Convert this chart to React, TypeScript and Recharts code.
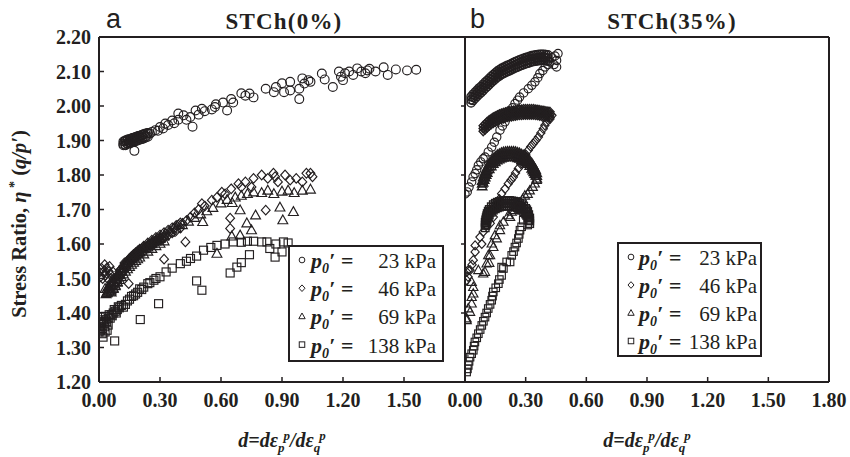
import React from 'react';
import { ScatterChart, Scatter, XAxis, YAxis, ReferenceLine } from 'recharts';

type P = [number, number];

const xTicksA = [0, 0.3, 0.6, 0.9, 1.2, 1.5];
const xTicksB = [0, 0.3, 0.6, 0.9, 1.2, 1.5, 1.8];
const yTicks = [1.2, 1.3, 1.4, 1.5, 1.6, 1.7, 1.8, 1.9, 2.0, 2.1, 2.2];
const yTicksB = [1.2, 1.4, 1.6, 1.8, 2.0, 2.2];
const legendLabels = ['23 kPa', '46 kPa', '69 kPa', '138 kPa'];
const titles = ['STCh(0%)', 'STCh(35%)'];
const panelLetters = ['a', 'b'];

// ---------- Panel a : STCh(0%) ----------
const a23: P[] = [
  [0.12,1.89],[0.125,1.897],[0.13,1.886],[0.133,1.9],[0.138,1.892],[0.142,1.903],[0.146,1.895],[0.15,1.9],[0.154,1.893],[0.158,1.905],
  [0.162,1.898],[0.166,1.907],[0.17,1.9],[0.174,1.87],[0.176,1.908],[0.18,1.902],[0.185,1.91],[0.19,1.905],[0.195,1.913],[0.2,1.908],
  [0.21,1.915],[0.215,1.91],[0.22,1.918],[0.23,1.913],[0.24,1.921],[0.25,1.92],[0.26,1.925],[0.277,1.93],[0.29,1.928],[0.3,1.939],
  [0.315,1.935],[0.326,1.949],[0.34,1.945],[0.36,1.958],[0.37,1.95],[0.39,1.978],[0.39,1.96],[0.416,1.973],[0.43,1.96],[0.449,1.968],
  [0.46,1.94],[0.475,1.987],[0.49,1.975],[0.506,1.992],[0.52,1.985],[0.555,1.99],[0.57,1.997],[0.575,2.005],[0.61,2.01],[0.63,1.987],
  [0.65,2.02],[0.66,2.01],[0.7,2.037],[0.72,2.03],[0.74,2.036],[0.76,2.025],[0.82,2.05],[0.86,2.04],[0.87,2.055],[0.9,2.066],
  [0.91,2.04],[0.94,2.07],[0.94,2.045],[0.985,2.05],[0.985,2.02],[1.0,2.08],[1.01,2.065],[1.03,2.075],[1.04,2.07],[1.096,2.094],
  [1.11,2.077],[1.15,2.055],[1.18,2.1],[1.19,2.085],[1.2,2.075],[1.21,2.095],[1.23,2.1],[1.25,2.09],[1.27,2.109],[1.29,2.1],
  [1.31,2.095],[1.32,2.103],[1.33,2.108],[1.36,2.1],[1.4,2.112],[1.42,2.09],[1.46,2.106],[1.515,2.103],[1.56,2.105],
];
// dense start of the 23 kPa cloud: [d, low, high]
const a23Dense: number[][] = [
  [0.12,1.886,1.897],[0.13,1.888,1.9],[0.14,1.89,1.902],[0.15,1.892,1.904],[0.16,1.894,1.906],[0.17,1.896,1.908],[0.18,1.898,1.91],
  [0.19,1.9,1.912],[0.2,1.902,1.914],[0.21,1.904,1.916],[0.22,1.906,1.918],[0.23,1.909,1.92],[0.24,1.911,1.922],
];
const a46: P[] = [
  [0.0,1.52],[0.008,1.505],[0.012,1.53],[0.018,1.5],[0.022,1.52],[0.028,1.54],[0.032,1.51],[0.038,1.53],[0.042,1.5],[0.048,1.52],
  [0.052,1.535],[0.058,1.51],[0.062,1.49],[0.068,1.52],[0.072,1.5],[0.08,1.48],[0.085,1.505],[0.09,1.49],[0.1,1.51],[0.105,1.525],
  [0.11,1.52],[0.12,1.535],[0.125,1.545],[0.13,1.54],[0.14,1.55],[0.146,1.485],[0.15,1.555],[0.16,1.56],[0.17,1.565],[0.18,1.572],
  [0.19,1.575],[0.2,1.582],[0.21,1.585],[0.22,1.59],[0.23,1.592],[0.24,1.597],[0.25,1.6],[0.26,1.605],[0.27,1.607],[0.28,1.612],
  [0.29,1.615],[0.3,1.62],[0.31,1.612],[0.32,1.556],[0.33,1.63],[0.35,1.637],[0.37,1.645],[0.39,1.655],[0.41,1.66],[0.425,1.606],
  [0.43,1.668],[0.45,1.678],[0.47,1.69],[0.49,1.7],[0.506,1.717],[0.52,1.71],[0.555,1.727],[0.58,1.735],[0.604,1.75],[0.62,1.745],
  [0.645,1.675],[0.645,1.645],[0.65,1.76],[0.686,1.775],[0.7,1.765],[0.72,1.78],[0.75,1.765],[0.76,1.79],[0.8,1.8],[0.82,1.698],
  [0.83,1.79],[0.858,1.805],[0.866,1.795],[0.88,1.78],[0.915,1.8],[0.94,1.785],[0.97,1.79],[1.0,1.78],[1.02,1.805],[1.04,1.805],[1.05,1.795],
];
const a46Dense: number[][] = [
  [0.1,1.505,1.52],[0.11,1.513,1.528],[0.12,1.521,1.536],[0.13,1.529,1.544],[0.14,1.536,1.551],[0.15,1.543,1.558],[0.16,1.549,1.564],
  [0.17,1.555,1.57],[0.18,1.56,1.575],[0.19,1.565,1.58],[0.2,1.57,1.585],[0.22,1.579,1.594],[0.24,1.588,1.603],[0.26,1.596,1.611],
  [0.28,1.604,1.619],[0.3,1.611,1.626],[0.32,1.618,1.633],[0.34,1.625,1.64],[0.36,1.632,1.647],[0.38,1.639,1.654],[0.4,1.646,1.661],
];
const a69: P[] = [
  [0.03,1.47],[0.035,1.455],[0.04,1.46],[0.045,1.475],[0.05,1.465],[0.055,1.48],[0.06,1.46],[0.065,1.485],[0.07,1.47],[0.075,1.49],
  [0.08,1.478],[0.085,1.5],[0.09,1.49],[0.1,1.51],[0.11,1.52],[0.12,1.53],[0.13,1.54],[0.14,1.545],[0.15,1.552],[0.16,1.56],
  [0.17,1.565],[0.18,1.57],[0.2,1.576],[0.22,1.585],[0.24,1.59],[0.26,1.6],[0.28,1.608],[0.3,1.615],[0.32,1.622],[0.35,1.633],
  [0.38,1.645],[0.41,1.655],[0.44,1.665],[0.47,1.676],[0.5,1.686],[0.51,1.664],[0.53,1.695],[0.56,1.705],[0.58,1.572],[0.6,1.718],
  [0.63,1.728],[0.653,1.622],[0.655,1.719],[0.67,1.735],[0.694,1.698],[0.694,1.625],[0.7,1.74],[0.727,1.66],[0.73,1.745],[0.75,1.64],
  [0.76,1.75],[0.77,1.683],[0.8,1.748],[0.83,1.755],[0.86,1.745],[0.89,1.706],[0.9,1.752],[0.904,1.669],[0.93,1.755],[0.956,1.693],
  [0.96,1.748],[1.0,1.755],[1.04,1.758],
];
const a69Dense: number[][] = [
  [0.04,1.458,1.47],[0.05,1.462,1.476],[0.06,1.466,1.482],[0.07,1.472,1.49],[0.08,1.48,1.498],[0.09,1.488,1.506],[0.1,1.496,1.514],
  [0.11,1.504,1.522],[0.12,1.512,1.53],[0.13,1.52,1.538],[0.14,1.527,1.545],[0.15,1.534,1.552],[0.16,1.54,1.558],[0.17,1.546,1.563],
  [0.18,1.551,1.568],[0.19,1.556,1.573],[0.2,1.561,1.578],[0.22,1.57,1.587],[0.24,1.578,1.595],[0.26,1.586,1.603],[0.28,1.594,1.61],
  [0.3,1.601,1.617],[0.32,1.608,1.624],
];
const a138: P[] = [
  [0.0,1.345],[0.004,1.36],[0.008,1.35],[0.012,1.372],[0.016,1.34],[0.02,1.33],[0.022,1.38],[0.028,1.36],[0.032,1.39],[0.038,1.375],
  [0.04,1.35],[0.045,1.385],[0.055,1.385],[0.06,1.395],[0.07,1.4],[0.077,1.319],[0.08,1.405],[0.09,1.41],[0.1,1.415],[0.12,1.417],
  [0.13,1.425],[0.15,1.44],[0.17,1.45],[0.19,1.46],[0.2,1.47],[0.203,1.381],[0.22,1.475],[0.24,1.485],[0.27,1.495],[0.293,1.427],
  [0.3,1.505],[0.33,1.519],[0.36,1.53],[0.4,1.543],[0.43,1.55],[0.45,1.558],[0.48,1.493],[0.48,1.565],[0.506,1.466],[0.514,1.582],
  [0.55,1.59],[0.58,1.596],[0.62,1.6],[0.645,1.516],[0.66,1.606],[0.678,1.533],[0.7,1.546],[0.7,1.605],[0.73,1.608],[0.74,1.569],
  [0.76,1.608],[0.8,1.606],[0.84,1.587],[0.826,1.606],[0.866,1.562],[0.87,1.6],[0.9,1.577],[0.907,1.606],[0.93,1.603],
  [0.005,1.375],[0.01,1.39],[0.015,1.355],[0.025,1.37],[0.03,1.345],[0.035,1.38],[0.045,1.365],[0.05,1.395],[0.065,1.392],
  [0.075,1.41],[0.085,1.4],[0.095,1.418],[0.11,1.422],[0.14,1.435],[0.16,1.448],[0.18,1.455],[0.21,1.468],[0.25,1.488],[0.28,1.5],
];

// ---------- Panel b : STCh(35%) ----------
const b23: P[] = [
  [0.0,1.745],[0.011,1.751],[0.02,1.765],[0.033,1.78],[0.04,1.795],[0.05,1.804],[0.058,1.815],[0.066,1.828],[0.078,1.838],[0.09,1.847],
  [0.099,1.852],[0.115,1.867],[0.132,1.881],[0.145,1.895],[0.157,1.91],[0.173,1.93],[0.185,1.942],[0.198,1.954],[0.21,1.97],[0.22,1.983],
  [0.235,1.995],[0.247,2.007],[0.26,2.017],[0.27,2.026],[0.29,2.038],[0.313,2.05],[0.33,2.06],[0.346,2.07],[0.36,2.082],[0.37,2.094],
  [0.385,2.103],[0.396,2.113],[0.41,2.12],[0.42,2.128],[0.44,2.12],[0.453,2.132],[0.453,2.113],[0.46,2.152],[0.43,2.14],[0.445,2.145],
];
// dense arc of the 23 kPa test: [d, low, mid, high]
const b23Arc: number[][] = [
  [0.03,2.009,2.018,2.027],[0.04,2.016,2.025,2.034],[0.05,2.022,2.031,2.04],[0.06,2.028,2.037,2.046],[0.07,2.034,2.043,2.052],
  [0.08,2.039,2.048,2.057],[0.09,2.045,2.054,2.063],[0.1,2.051,2.06,2.069],[0.11,2.056,2.065,2.074],[0.12,2.062,2.071,2.08],
  [0.13,2.068,2.077,2.086],[0.14,2.073,2.082,2.091],[0.15,2.078,2.087,2.096],[0.16,2.083,2.092,2.101],[0.17,2.087,2.096,2.105],
  [0.18,2.091,2.1,2.109],[0.19,2.094,2.103,2.112],[0.2,2.097,2.106,2.115],[0.21,2.1,2.109,2.118],[0.22,2.102,2.111,2.12],
  [0.23,2.105,2.114,2.123],[0.24,2.108,2.117,2.126],[0.25,2.111,2.12,2.129],[0.26,2.113,2.122,2.131],[0.27,2.116,2.125,2.134],
  [0.28,2.118,2.127,2.136],[0.29,2.12,2.129,2.138],[0.3,2.122,2.131,2.14],[0.31,2.124,2.133,2.142],[0.32,2.126,2.135,2.144],
  [0.33,2.128,2.137,2.146],[0.34,2.129,2.138,2.147],[0.35,2.13,2.139,2.148],[0.36,2.131,2.14,2.149],[0.37,2.132,2.141,2.15],
  [0.38,2.132,2.141,2.15],[0.39,2.132,2.141,2.15],[0.4,2.131,2.14,2.149],[0.41,2.13,2.139,2.148],
];
const b46: P[] = [
  [0.43,1.973],[0.42,1.962],[0.404,1.954],[0.395,1.944],[0.387,1.934],[0.375,1.922],[0.363,1.91],[0.35,1.9],[0.338,1.891],[0.325,1.882],
  [0.313,1.872],[0.3,1.86],[0.288,1.845],[0.276,1.832],[0.264,1.819],[0.25,1.806],[0.239,1.794],[0.227,1.785],[0.214,1.775],[0.198,1.76],
  [0.181,1.746],[0.17,1.73],[0.157,1.717],[0.145,1.7],[0.14,1.678],[0.125,1.66],[0.107,1.654],[0.09,1.635],[0.074,1.62],[0.083,1.6],
  [0.05,1.596],[0.05,1.577],[0.041,1.553],[0.035,1.54],[0.025,1.524],[0.016,1.524],[0.008,1.519],[0.015,1.505],[0.008,1.495],
];
const b46Arc: number[][] = [
  [0.09,1.927,1.935,1.943],[0.1,1.932,1.94,1.948],[0.11,1.938,1.946,1.954],[0.12,1.943,1.951,1.959],[0.13,1.947,1.955,1.963],
  [0.14,1.951,1.959,1.967],[0.15,1.954,1.962,1.97],[0.16,1.957,1.965,1.973],[0.17,1.96,1.968,1.976],[0.18,1.962,1.97,1.978],
  [0.19,1.964,1.972,1.98],[0.2,1.966,1.974,1.982],[0.21,1.968,1.976,1.984],[0.22,1.969,1.977,1.985],[0.23,1.97,1.978,1.986],
  [0.24,1.971,1.979,1.987],[0.25,1.972,1.98,1.988],[0.26,1.973,1.981,1.989],[0.27,1.974,1.982,1.99],[0.28,1.974,1.982,1.99],
  [0.29,1.975,1.983,1.991],[0.3,1.975,1.983,1.991],[0.31,1.975,1.983,1.991],[0.32,1.975,1.983,1.991],[0.33,1.975,1.983,1.991],
  [0.34,1.975,1.983,1.991],[0.35,1.974,1.982,1.99],[0.36,1.973,1.981,1.989],[0.37,1.972,1.98,1.988],[0.38,1.971,1.979,1.987],
  [0.39,1.97,1.978,1.986],[0.4,1.969,1.977,1.985],[0.41,1.968,1.976,1.984],[0.42,1.967,1.975,1.983],
];
const b69: P[] = [
  [0.355,1.785],[0.345,1.775],[0.335,1.765],[0.32,1.755],[0.31,1.745],[0.296,1.74],[0.285,1.73],[0.272,1.72],[0.26,1.708],[0.245,1.698],
  [0.231,1.693],[0.214,1.683],[0.223,1.678],[0.19,1.664],[0.173,1.654],[0.173,1.64],[0.157,1.616],[0.148,1.625],[0.14,1.591],[0.132,1.601],
  [0.124,1.567],[0.115,1.567],[0.107,1.543],[0.12,1.545],[0.099,1.519],[0.09,1.514],[0.066,1.524],[0.041,1.475],[0.041,1.456],[0.033,1.49],
  [0.033,1.446],[0.033,1.427],[0.025,1.403],[0.016,1.413],[0.008,1.384],[0.008,1.379],
];
const b69Arc: number[][] = [
  [0.085,1.767,1.775,1.783],[0.09,1.778,1.786,1.794],[0.095,1.786,1.794,1.802],[0.1,1.793,1.801,1.809],[0.105,1.8,1.808,1.816],
  [0.11,1.806,1.814,1.822],[0.12,1.817,1.825,1.833],[0.13,1.825,1.833,1.841],[0.14,1.832,1.84,1.848],[0.15,1.837,1.845,1.853],
  [0.16,1.842,1.85,1.858],[0.17,1.845,1.853,1.861],[0.18,1.848,1.856,1.864],[0.19,1.85,1.858,1.866],[0.2,1.851,1.859,1.867],
  [0.21,1.852,1.86,1.868],[0.22,1.852,1.86,1.868],[0.23,1.852,1.86,1.868],[0.24,1.852,1.86,1.868],[0.25,1.851,1.859,1.867],
  [0.26,1.849,1.857,1.865],[0.27,1.847,1.855,1.863],[0.28,1.844,1.852,1.86],[0.29,1.841,1.849,1.857],[0.3,1.837,1.845,1.853],
  [0.31,1.832,1.84,1.848],[0.32,1.826,1.834,1.842],[0.33,1.818,1.826,1.834],[0.335,1.813,1.821,1.829],[0.34,1.808,1.816,1.824],
  [0.345,1.803,1.811,1.819],[0.35,1.798,1.806,1.814],[0.355,1.789,1.797,1.805],
];
const b138: P[] = [
  [0.31,1.655],[0.288,1.669],[0.28,1.65],[0.272,1.64],[0.268,1.628],[0.264,1.616],[0.255,1.603],[0.247,1.591],[0.24,1.578],[0.231,1.567],
  [0.223,1.548],[0.206,1.548],[0.19,1.529],[0.181,1.533],[0.181,1.509],[0.17,1.497],[0.165,1.485],[0.152,1.473],[0.14,1.461],[0.136,1.449],
  [0.132,1.437],[0.124,1.425],[0.115,1.413],[0.107,1.4],[0.099,1.388],[0.091,1.376],[0.083,1.364],[0.075,1.352],[0.066,1.34],[0.058,1.328],
  [0.049,1.316],[0.045,1.304],[0.041,1.292],[0.033,1.282],[0.025,1.272],[0.02,1.26],[0.016,1.248],[0.012,1.238],[0.008,1.229],
];
const b138Arc: number[][] = [
  [0.1,1.647,1.655,1.663],[0.103,1.654,1.662,1.67],[0.105,1.66,1.668,1.676],[0.108,1.666,1.674,1.682],[0.11,1.672,1.68,1.688],
  [0.115,1.679,1.687,1.695],[0.12,1.684,1.692,1.7],[0.13,1.692,1.7,1.708],[0.14,1.698,1.706,1.714],[0.15,1.702,1.71,1.718],
  [0.16,1.705,1.713,1.721],[0.17,1.707,1.715,1.723],[0.18,1.709,1.717,1.725],[0.19,1.71,1.718,1.726],[0.2,1.71,1.718,1.726],
  [0.21,1.71,1.718,1.726],[0.22,1.71,1.718,1.726],[0.23,1.709,1.717,1.725],[0.24,1.708,1.716,1.724],[0.25,1.707,1.715,1.723],
  [0.26,1.705,1.713,1.721],[0.27,1.702,1.71,1.718],[0.28,1.698,1.706,1.714],[0.29,1.693,1.701,1.709],[0.3,1.687,1.695,1.703],
  [0.305,1.683,1.691,1.699],[0.31,1.678,1.686,1.694],[0.315,1.669,1.677,1.685],[0.32,1.659,1.667,1.675],
];

const toPts = (arr: P[]) => arr.map(([x, y]) => ({ x, y }));
const rowsToPts = (rows: number[][]) => rows.flatMap(([x, ...ys]) => ys.map((y) => ({ x, y })));

const INK = '#231f20';
const SERIF = '"Liberation Serif", "Times New Roman", serif';
const SANS = '"Liberation Sans", Arial, sans-serif';

const cxOf = (p: any) => (p.cx !== undefined ? p.cx : p.x + (p.width || 0) / 2);
const cyOf = (p: any) => (p.cy !== undefined ? p.cy : p.y + (p.height || 0) / 2);

const Sym = ({ kind, cx, cy, s, w = 1.15 }: { kind: string; cx: number; cy: number; s: number; w?: number }) => {
  const st = { fill: 'none', stroke: INK, strokeWidth: w };
  if (kind === 'circle') return <circle cx={cx} cy={cy} r={s * 0.52} {...st} />;
  if (kind === 'square') return <rect x={cx - s / 2} y={cy - s / 2} width={s} height={s} {...st} />;
  if (kind === 'diamond')
    return <path d={`M${cx},${cy - s * 0.6}L${cx + s * 0.55},${cy}L${cx},${cy + s * 0.6}L${cx - s * 0.55},${cy}Z`} {...st} />;
  return <path d={`M${cx},${cy - s * 0.62}L${cx + s * 0.58},${cy + s * 0.42}L${cx - s * 0.58},${cy + s * 0.42}Z`} {...st} />;
};

const mk = (kind: string, s: number, w = 1.15) => (p: any) => {
  const cx = cxOf(p);
  const cy = cyOf(p);
  if (cx === undefined || isNaN(cx)) return <g />;
  return <Sym kind={kind} cx={cx} cy={cy} s={s} w={w} />;
};

const XTickIn = (props: any) => {
  const { x, y, payload } = props;
  return (
    <g>
      <line x1={x} y1={y} x2={x} y2={y - 5} stroke={INK} strokeWidth={1.5} />
      <text x={x} y={y + 25} textAnchor="middle" fontFamily={SERIF} fontWeight="bold" fontSize={20} fill={INK}>
        {Number(payload.value).toFixed(2)}
      </text>
    </g>
  );
};

const YTickIn = (props: any) => {
  const { x, y, payload } = props;
  return (
    <g>
      <line x1={x} y1={y} x2={x + 5} y2={y} stroke={INK} strokeWidth={1.5} />
      <text x={x - 8} y={y + 7} textAnchor="end" fontFamily={SERIF} fontWeight="bold" fontSize={20} fill={INK}>
        {Number(payload.value).toFixed(2)}
      </text>
    </g>
  );
};

const YTickOut = (props: any) => {
  const { x, y } = props;
  return <line x1={x} y1={y} x2={x - 4} y2={y} stroke={INK} strokeWidth={1.5} />;
};

const axisLine = { stroke: INK, strokeWidth: 2 };

const Legend = ({ x, y, w, h, base, pitch, mx, lx, vr }: any) => {
  const kinds = ['circle', 'diamond', 'triangle', 'square'];
  return (
    <g>
      <rect x={x} y={y} width={w} height={h} fill="#fff" stroke={INK} strokeWidth={2} />
      {legendLabels.map((lab, i) => {
        const b = base + i * pitch;
        return (
          <g key={lab}>
            <Sym kind={kinds[i]} cx={mx} cy={b - 8} s={5.5} w={1} />
            <text x={lx} y={b} fontFamily={SERIF} fontWeight="bold" fontStyle="italic" fontSize={22} fill={INK}>
              p<tspan dy={5} fontSize={14}>0</tspan>
              <tspan dy={-5}>{'′ ='}</tspan>
            </text>
            <text x={vr} y={b} textAnchor="end" fontFamily={SERIF} fontSize={21} fill={INK}>
              {lab}
            </text>
          </g>
        );
      })}
    </g>
  );
};

const XLabel = ({ cx }: { cx: number }) => (
  <text x={cx} y={447} textAnchor="middle" fontFamily={SERIF} fontWeight="bold" fontStyle="italic" fontSize={20} fill={INK}>
    d=dε<tspan dy={5} fontSize={13}>p</tspan>
    <tspan dx={-1} dy={-12} fontSize={13}>p</tspan>
    <tspan dy={7}>/dε</tspan>
    <tspan dy={5} fontSize={13}>q</tspan>
    <tspan dx={-1} dy={-12} fontSize={13}>p</tspan>
  </text>
);

export default function App() {
  return (
    <div style={{ position: 'absolute', left: 0, top: 0, width: 850, height: 457, background: '#fff', overflow: 'hidden' }}>
      <div style={{ position: 'absolute', left: 0, top: 0 }}>
        <ScatterChart width={470} height={457} margin={{ top: 37, right: 5, bottom: 45, left: 39 }}>
          <XAxis type="number" dataKey="x" domain={[0, 1.8]} ticks={xTicksA} interval={0} height={30}
            axisLine={axisLine} tickLine={false} tickSize={0} tickMargin={0} tick={<XTickIn />} allowDataOverflow />
          <YAxis type="number" dataKey="y" domain={[1.2, 2.2]} ticks={yTicks} interval={0} width={60}
            axisLine={axisLine} tickLine={false} tickSize={0} tickMargin={0} tick={<YTickIn />} allowDataOverflow />
          <ReferenceLine y={2.2} stroke={INK} strokeWidth={2} ifOverflow="visible" />
          <ReferenceLine x={1.8} stroke={INK} strokeWidth={2} ifOverflow="visible" />
          <Scatter data={toPts(a138)} shape={mk('square', 8)} isAnimationActive={false} />
          <Scatter data={toPts(a69)} shape={mk('triangle', 8.5)} isAnimationActive={false} />
          <Scatter data={rowsToPts(a69Dense)} shape={mk('triangle', 8.5)} isAnimationActive={false} />
          <Scatter data={toPts(a46)} shape={mk('diamond', 8)} isAnimationActive={false} />
          <Scatter data={rowsToPts(a46Dense)} shape={mk('diamond', 8)} isAnimationActive={false} />
          <Scatter data={toPts(a23)} shape={mk('circle', 8.5)} isAnimationActive={false} />
          <Scatter data={rowsToPts(a23Dense)} shape={mk('circle', 8.5)} isAnimationActive={false} />
        </ScatterChart>
      </div>
      <div style={{ position: 'absolute', left: 440, top: 0 }}>
        <ScatterChart width={410} height={457} margin={{ top: 37, right: 21, bottom: 45, left: 20 }}>
          <XAxis type="number" dataKey="x" domain={[0, 1.8]} ticks={xTicksB} interval={0} height={30}
            axisLine={axisLine} tickLine={false} tickSize={0} tickMargin={0} tick={<XTickIn />} allowDataOverflow />
          <YAxis type="number" dataKey="y" domain={[1.2, 2.2]} ticks={yTicksB} interval={0} width={5}
            axisLine={axisLine} tickLine={false} tickSize={0} tickMargin={0} tick={<YTickOut />} allowDataOverflow />
          <ReferenceLine y={2.2} stroke={INK} strokeWidth={2} ifOverflow="visible" />
          <ReferenceLine x={1.8} stroke={INK} strokeWidth={2} ifOverflow="visible" />
          <Scatter data={toPts(b138)} shape={mk('square', 7.5)} isAnimationActive={false} />
          <Scatter data={rowsToPts(b138Arc)} shape={mk('square', 7.5, 1.4)} isAnimationActive={false} />
          <Scatter data={toPts(b69)} shape={mk('triangle', 8)} isAnimationActive={false} />
          <Scatter data={rowsToPts(b69Arc)} shape={mk('triangle', 8, 1.4)} isAnimationActive={false} />
          <Scatter data={toPts(b46)} shape={mk('diamond', 7.5)} isAnimationActive={false} />
          <Scatter data={rowsToPts(b46Arc)} shape={mk('diamond', 7.5, 1.4)} isAnimationActive={false} />
          <Scatter data={toPts(b23)} shape={mk('circle', 8)} isAnimationActive={false} />
          <Scatter data={rowsToPts(b23Arc)} shape={mk('circle', 8, 1.4)} isAnimationActive={false} />
        </ScatterChart>
      </div>
      <svg width={850} height={457} style={{ position: 'absolute', left: 0, top: 0, pointerEvents: 'none' }}>
        <text x={106} y={28} fontFamily={SANS} fontSize={27} fill={INK}>{panelLetters[0]}</text>
        <text x={470} y={28} fontFamily={SANS} fontSize={27} fill={INK}>{panelLetters[1]}</text>
        <text x={284} y={29} textAnchor="middle" fontFamily={SERIF} fontWeight="bold" fontSize={23} letterSpacing={1.2} fill={INK}>{titles[0]}</text>
        <text x={672} y={29} textAnchor="middle" fontFamily={SERIF} fontWeight="bold" fontSize={23} letterSpacing={1.2} fill={INK}>{titles[1]}</text>
        <text transform="translate(26,224) rotate(-90)" textAnchor="middle" fontFamily={SERIF} fontWeight="bold" fontSize={20.5} fill={INK}>
          {'Stress Ratio, '}
          <tspan fontStyle="italic">η</tspan>
          <tspan dy={-7} fontSize={14}>{' *'}</tspan>
          <tspan dy={7}>{' ('}</tspan>
          <tspan fontStyle="italic">{'q/p′'}</tspan>
          <tspan>)</tspan>
        </text>
        <XLabel cx={282} />
        <XLabel cx={647} />
        <Legend x={289} y={246} w={154} h={115} base={268} pitch={28.2} mx={302} lx={311} vr={436} />
        <Legend x={618} y={243} w={143} h={113} base={265} pitch={28} mx={631} lx={639} vr={757} />
      </svg>
    </div>
  );
}
